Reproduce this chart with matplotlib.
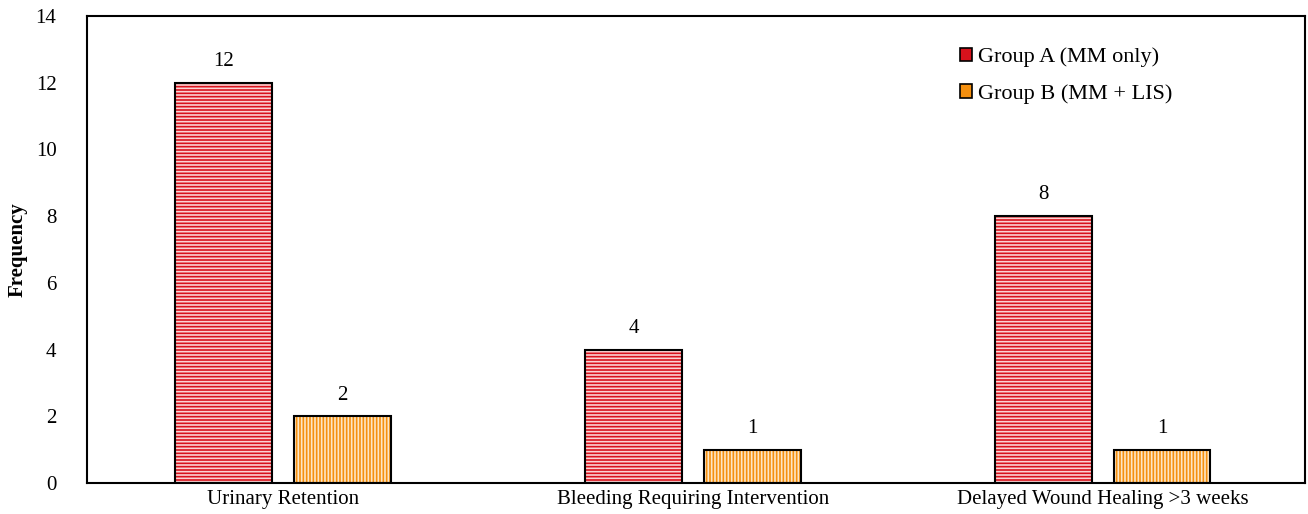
import numpy as np
import matplotlib.pyplot as plt

categories = ['Urinary Retention', 'Bleeding Requiring Intervention',
              'Delayed Wound Healing >3 weeks']
group_a = [12, 4, 8]
group_b = [2, 1, 1]
labels = ['Group A (MM only)', 'Group B (MM + LIS)']

plt.rcParams['font.family'] = ['Liberation Serif', 'DejaVu Serif']
plt.rcParams['hatch.linewidth'] = 1.2

fig = plt.figure(figsize=(13.08, 5.14), dpi=100)
ax = fig.add_axes([0.0665, 0.0603, 0.9312, 0.9087])

x = np.arange(len(categories))
w = 0.235
off = 0.145

# filled bars with white stripes, then black outline on top
ax.bar(x - off, group_a, w, color='#d8121c', edgecolor='#fbd3d3',
       hatch='-----', linewidth=0, zorder=2)
ax.bar(x + off, group_b, w, color='#f5900f', edgecolor='#fde6c6',
       hatch='|||||', linewidth=0, zorder=2)
ax.bar(x - off, group_a, w, fill=False, edgecolor='black', linewidth=1.5, zorder=3)
ax.bar(x + off, group_b, w, fill=False, edgecolor='black', linewidth=1.5, zorder=3)

for xi, v in zip(x - off, group_a):
    ax.text(xi, v + 0.35, str(v), ha='center', va='bottom', fontsize=15)
for xi, v in zip(x + off, group_b):
    ax.text(xi, v + 0.35, str(v), ha='center', va='bottom', fontsize=15)

# legend handles
ha = plt.Rectangle((0, 0), 1, 1, facecolor='#d8121c', edgecolor='black', linewidth=1.2)
hb = plt.Rectangle((0, 0), 1, 1, facecolor='#f5900f', edgecolor='black', linewidth=1.2)
ax.legend([ha, hb], labels, loc='upper left', bbox_to_anchor=(0.70, 0.975),
          frameon=False, fontsize=16, handlelength=0.55, handleheight=0.55,
          handletextpad=0.3, labelspacing=0.75)

ax.set_xlim(-0.478, 2.493)
ax.set_ylim(0, 14)
ax.set_yticks(range(0, 15, 2))
ax.set_xticks(x)
ax.set_xticklabels(categories, fontsize=15)
ax.tick_params(axis='y', labelsize=15, length=0, pad=22)
ax.tick_params(axis='x', length=0, pad=5)
ax.set_ylabel('Frequency', fontsize=15, fontweight='bold', labelpad=6)
for s in ax.spines.values():
    s.set_linewidth(1.5)

fig.savefig('out.png', dpi=100)
